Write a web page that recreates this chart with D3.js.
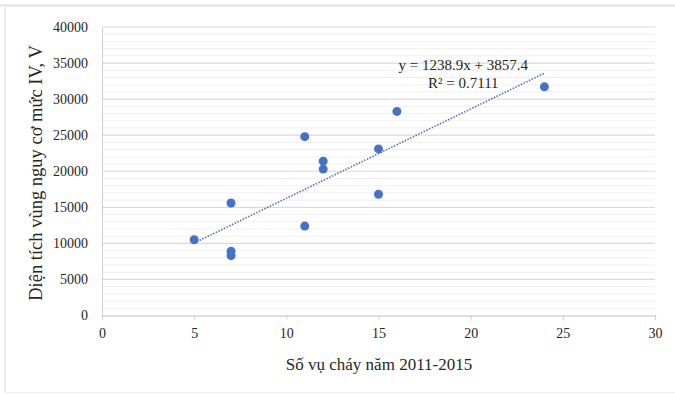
<!DOCTYPE html>
<html lang="vi">
<head>
<meta charset="utf-8">
<script src="https://d3js.org/d3.v7.min.js"></script>
<style>
  body { margin: 0; background: #fff; }
  text { font-family: "Liberation Serif", "DejaVu Serif", serif; fill: #262626; }
</style>
</head>
<body>
<script>
  var w = 675;
  var h = 394;
  var margin = {top: 27, right: 20, bottom: 79, left: 102};
  var innerWidth = 655 - margin.left;
  var innerHeight = 315.5 - margin.top;

  // data
  var fires = [5, 7, 7, 7, 11, 11, 12, 12, 15, 15, 16, 24];
  var area = [10500, 15600, 8900, 8300, 24800, 12400, 21400, 20300, 23100, 16800, 28300, 31700];
  var xTicks = [0, 5, 10, 15, 20, 25, 30];
  var yTicks = [0, 5000, 10000, 15000, 20000, 25000, 30000, 35000, 40000];
  var slope = 1238.9, intercept = 3857.4;
  var eqLines = ["y = 1238.9x + 3857.4", "R² = 0.7111"];
  var xTitle = "Số vụ cháy năm 2011-2015";
  var yTitle = "Diện tích vùng nguy cơ mức IV, V";

  var points = fires.map((d, i) => ({x: d, y: area[i]}));

  var xScale = d3.scaleLinear().domain([0, 30]).range([0, innerWidth]);
  var yScale = d3.scaleLinear().domain([0, 40000]).range([innerHeight, 0]);

  var svg = d3.select("body").append("svg")
      .attr("width", w)
      .attr("height", h);

  // chart frame
  svg.append("line").attr("x1", 0).attr("x2", w).attr("y1", 5.5).attr("y2", 5.5)
      .attr("stroke", "#e2e2e2").attr("stroke-width", 2);
  svg.append("line").attr("x1", 5).attr("x2", 5).attr("y1", 7).attr("y2", 392)
      .attr("stroke", "#e6e6e6").attr("stroke-width", 1.5);
  svg.append("line").attr("x1", 5).attr("x2", w).attr("y1", 392.5).attr("y2", 392.5)
      .attr("stroke", "#eeeeee").attr("stroke-width", 1);

  var g = svg.append("g")
      .attr("transform", `translate(${margin.left}, ${margin.top})`);

  // minor gridlines
  g.append("g").selectAll("line")
      .data(d3.range(0, 40001, 1000).filter(v => v % 5000 != 0))
      .enter().append("line")
      .attr("x1", 0).attr("x2", innerWidth)
      .attr("y1", d => yScale(d)).attr("y2", d => yScale(d))
      .attr("stroke", "#efefef").attr("stroke-width", 1);

  // major gridlines
  g.append("g").selectAll("line")
      .data(yTicks.slice(1))
      .enter().append("line")
      .attr("x1", 0).attr("x2", innerWidth)
      .attr("y1", d => yScale(d)).attr("y2", d => yScale(d))
      .attr("stroke", "#d9d9d9").attr("stroke-width", 1.2);

  // axes
  var xAxis = d3.axisBottom(xScale).tickValues(xTicks).tickFormat(d3.format("d"))
      .tickSize(4).tickPadding(9);
  var yAxis = d3.axisLeft(yScale).tickValues(yTicks).tickFormat(d3.format("d"))
      .tickSize(0).tickPadding(14);

  var gx = g.append("g")
      .attr("transform", `translate(0, ${innerHeight})`)
      .call(xAxis);
  gx.select(".domain").attr("stroke", "#bfbfbf").attr("stroke-width", 1.2);
  gx.selectAll(".tick line").attr("stroke", "#d0d0d0");
  gx.selectAll("text").attr("font-size", 14).attr("fill", "#262626");

  var gy = g.append("g").call(yAxis);
  gy.select(".domain").attr("stroke", "#d0d0d0");
  gy.selectAll("text").attr("font-size", 14).attr("fill", "#262626");

  // trendline
  var xr = d3.extent(fires);
  g.append("line")
      .attr("x1", xScale(xr[0])).attr("y1", yScale(slope * xr[0] + intercept))
      .attr("x2", xScale(xr[1])).attr("y2", yScale(slope * xr[1] + intercept))
      .attr("stroke", "#4a6fb5")
      .attr("stroke-width", 1.6)
      .attr("stroke-dasharray", "1.5,1.5");

  // points
  g.append("g").selectAll("circle")
      .data(points)
      .enter().append("circle")
      .attr("cx", d => xScale(d.x))
      .attr("cy", d => yScale(d.y))
      .attr("r", 4.5)
      .attr("fill", "#4472c4");

  // equation
  g.append("g").selectAll("text")
      .data(eqLines)
      .enter().append("text")
      .attr("x", xScale(19.6))
      .attr("y", (d, i) => 43 + i * 18)
      .attr("text-anchor", "middle")
      .attr("font-size", 15)
      .text(d => d);

  // axis titles
  svg.append("text")
      .attr("x", 379)
      .attr("y", 370)
      .attr("text-anchor", "middle")
      .attr("font-size", 17)
      .text(xTitle);

  svg.append("text")
      .attr("transform", "translate(42, 173) rotate(-90)")
      .attr("text-anchor", "middle")
      .attr("font-size", 18.5)
      .text(yTitle);
</script>
</body>
</html>
